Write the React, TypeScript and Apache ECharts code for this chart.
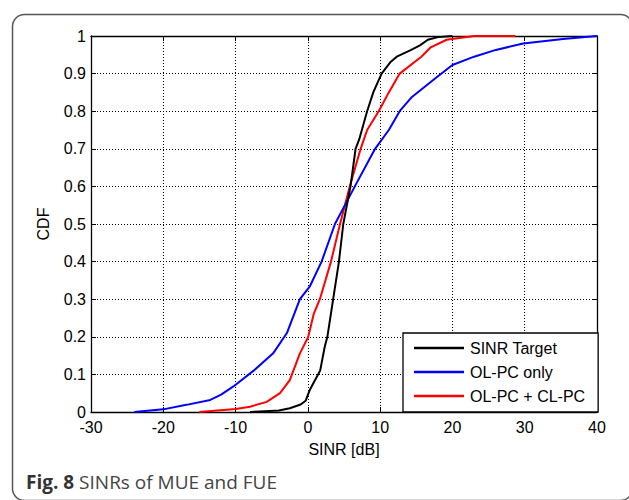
import React, { useEffect, useRef } from "react";
import * as echarts from "echarts";

const seriesNames = ["SINR Target", "OL-PC only", "OL-PC + CL-PC"];
const seriesColors = ["#000000", "#0000ff", "#ff0000"];

const sinrTarget: [number, number][] = [
  [-8, 0], [-6, 0.002], [-4, 0.004], [-2.5, 0.01], [-1, 0.02], [-0.3, 0.03],
  [0.3, 0.06], [1, 0.085], [1.7, 0.11], [2.35, 0.175], [2.7, 0.2], [3.5, 0.3],
  [4.3, 0.4], [4.9, 0.5], [5.9, 0.6], [6.6, 0.7], [7.1, 0.725], [8.2, 0.8],
  [9.05, 0.85], [10.2, 0.9], [11.4, 0.93], [12.3, 0.945], [14.3, 0.963],
  [15.5, 0.975], [16.6, 0.99], [18, 0.997], [20, 1],
];

const olpcOnly: [number, number][] = [
  [-24, 0], [-20, 0.007], [-16.8, 0.019], [-13.5, 0.032], [-12, 0.046],
  [-10.3, 0.068], [-7.5, 0.11], [-4.8, 0.156], [-2.9, 0.21], [-1.1, 0.3],
  [0.3, 0.335], [1.9, 0.4], [3.75, 0.5], [6.5, 0.6], [9.3, 0.7], [11.2, 0.75],
  [12.7, 0.8], [14.4, 0.838], [17.6, 0.887], [20, 0.923], [23, 0.945],
  [26, 0.963], [29.8, 0.98], [35.3, 0.992], [40, 1],
];

const olpcClpc: [number, number][] = [
  [-15, 0], [-10, 0.008], [-8, 0.014], [-5.7, 0.027], [-3.85, 0.05],
  [-2.5, 0.085], [-1.1, 0.156], [0.06, 0.2], [0.8, 0.26], [1.66, 0.3],
  [3.2, 0.4], [4.45, 0.5], [5.8, 0.6], [7.3, 0.7], [8.2, 0.75], [9.8, 0.8],
  [11.2, 0.85], [12.7, 0.9], [15.7, 0.945], [17, 0.97], [19.2, 0.99],
  [23, 1], [28.7, 1],
];

const xTicks = { min: -30, max: 40, interval: 10 };
const yTicks = { min: 0, max: 1, interval: 0.1 };

export default function App() {
  const ref = useRef<HTMLDivElement>(null);
  useEffect(() => {
    if (!ref.current) return;
    const chart = echarts.init(ref.current, null, { renderer: "svg" });
    const font = "Liberation Sans, Arial, Helvetica, sans-serif";
    const grid = { left: 91, top: 36, right: 32, bottom: 88 };
    const dataSets = [sinrTarget, olpcOnly, olpcClpc];
    const axisLine = { show: true, onZero: false, lineStyle: { color: "#000", width: 1.3 } };
    const axisTick = { show: true, inside: true, length: 5, lineStyle: { color: "#000" } };
    const splitLine = { show: true, lineStyle: { color: "#000", type: [1, 2], width: 1 } };
    chart.setOption({
      animation: false,
      backgroundColor: "#ffffff",
      grid,
      xAxis: [
        {
          type: "value",
          min: xTicks.min,
          max: xTicks.max,
          interval: xTicks.interval,
          name: "SINR [dB]",
          nameLocation: "middle",
          nameGap: 29,
          nameTextStyle: { fontFamily: font, fontSize: 16, color: "#000" },
          axisLine,
          axisTick,
          axisLabel: { fontFamily: font, fontSize: 16, color: "#000", margin: 7 },
          splitLine,
        },
        {
          type: "value",
          position: "top",
          min: xTicks.min,
          max: xTicks.max,
          interval: xTicks.interval,
          axisLine,
          axisTick,
          axisLabel: { show: false },
          splitLine: { show: false },
        },
      ],
      yAxis: [
        {
          type: "value",
          min: yTicks.min,
          max: yTicks.max,
          interval: yTicks.interval,
          name: "CDF",
          nameLocation: "middle",
          nameGap: 40,
          nameTextStyle: { fontFamily: font, fontSize: 16, color: "#000" },
          axisLine,
          axisTick,
          axisLabel: { fontFamily: font, fontSize: 16, color: "#000", margin: 5 },
          splitLine,
        },
        {
          type: "value",
          position: "right",
          min: yTicks.min,
          max: yTicks.max,
          interval: yTicks.interval,
          axisLine,
          axisTick,
          axisLabel: { show: false },
          splitLine: { show: false },
        },
      ],
      legend: {
        orient: "vertical",
        left: 403,
        top: 333,
        padding: [7, 13, 8, 11],
        icon: "rect",
        itemWidth: 50,
        itemHeight: 2.5,
        itemGap: 8,
        backgroundColor: "#fff",
        borderColor: "#000",
        borderWidth: 1.3,
        borderRadius: 0,
        z: 10,
        textStyle: { fontFamily: font, fontSize: 16, color: "#000", padding: [0, 0, 0, 1] },
        data: seriesNames,
      },
      graphic: [
        {
          type: "rect",
          left: 10,
          top: 12,
          shape: { width: 620, height: 486, r: 12 },
          style: { fill: "none", stroke: "#555", lineWidth: 1.5 },
          z: -1,
        },
        {
          type: "text",
          left: 26,
          top: 472,
          style: {
            text: "{b|Fig. 8} SINRs of MUE and FUE",
            rich: {
              b: { fontWeight: "bold", fontFamily: "Open Sans, sans-serif", fontSize: 19, fill: "#333" },
            },
            fontFamily: "Open Sans, sans-serif",
            fontSize: 19,
            fill: "#444",
          },
        },
      ],
      series: dataSets.map((d, i) => ({
        name: seriesNames[i],
        type: "line",
        data: d,
        symbol: "none",
        showSymbol: false,
        color: seriesColors[i],
        lineStyle: { color: seriesColors[i], width: 2 },
        z: 3 - i,
      })),
    });
    return () => chart.dispose();
  }, []);
  return (
    <div
      ref={ref}
      style={{ position: "fixed", left: 0, top: 0, width: 629, height: 500 }}
    />
  );
}
